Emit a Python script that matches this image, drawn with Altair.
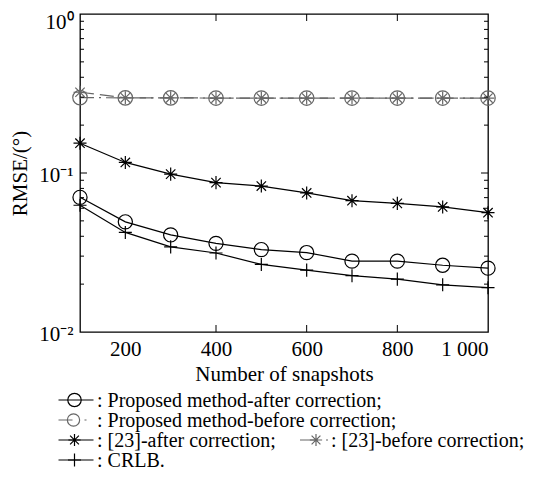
import altair as alt
import pandas as pd

# ---------------- data ----------------
snapshots = [100, 200, 300, 400, 500, 600, 700, 800, 900, 1000]
prop_after = [0.0703, 0.0493, 0.0408, 0.0361, 0.0330, 0.0316, 0.0279, 0.0279, 0.0263, 0.0252]
prop_before = [0.298, 0.297, 0.297, 0.296, 0.296, 0.296, 0.296, 0.296, 0.296, 0.296]
ref23_after = [0.154, 0.1165, 0.0984, 0.0870, 0.0828, 0.0749, 0.0670, 0.0644, 0.0612, 0.0563]
ref23_before = [0.322, 0.297, 0.297, 0.296, 0.296, 0.296, 0.296, 0.296, 0.296, 0.296]
crlb = [0.0627, 0.0423, 0.0343, 0.0314, 0.0266, 0.0245, 0.0226, 0.0215, 0.0198, 0.0190]

x_tick_values = [200, 400, 600, 800, 1000]
x_inner_ticks = [400, 600, 800]
y_major = [0.01, 0.1, 1]
y_minor = [0.02, 0.03, 0.04, 0.05, 0.06, 0.07, 0.08, 0.09,
           0.2, 0.3, 0.4, 0.5, 0.6, 0.7, 0.8, 0.9]

legend_labels = [": Proposed method-after correction;",
                 ": Proposed method-before correction;",
                 ": [23]-after correction;",
                 ": [23]-before correction;",
                 ": CRLB."]

# ---------------- styling ----------------
W, H = 408, 318
FONT = "Liberation Serif"
GRAY = "#666666"
STAR = "M-1,0L1,0M0,-1L0,1M-0.72,-0.72L0.72,0.72M-0.72,0.72L0.72,-0.72"
PLUS = "M-1,0L1,0M0,-1L0,1"
LFS = 20

xs = alt.Scale(domain=[100, 1000], nice=False, zero=False)
ys = alt.Scale(type="log", domain=[0.01, 1], nice=False)

x_axis = alt.Axis(values=x_tick_values, ticks=False, domain=False, grid=False,
                  labelExpr="datum.value == 1000 ? '1 000' : datum.label",
                  labelFontSize=21, labelPadding=6, labelColor="black",
                  titleFontSize=21, titleFontWeight="normal", titlePadding=4,
                  titleColor="black", labelFont=FONT, titleFont=FONT)
y_axis = alt.Axis(values=y_major, ticks=False, domain=False, grid=False,
                  labelExpr="datum.value >= 0.5 ? '10⁰' : datum.value >= 0.05 ? '10⁻¹' : '10⁻²'",
                  labelBaseline={"condition": {"test": "datum.value >= 0.5", "value": "top"},
                                 "value": "middle"},
                  labelOffset={"condition": {"test": "datum.value >= 0.5", "value": -3},
                               "value": 2},
                  labelFontSize=21, labelPadding=7, labelColor="black",
                  titleFontSize=21, titleFontWeight="normal", titlePadding=8,
                  titleColor="black", labelFont=FONT, titleFont=FONT)
X = alt.X("x:Q", scale=xs, title="Number of snapshots", axis=x_axis)
Y = alt.Y("y:Q", scale=ys, title="RMSE/(°)", axis=y_axis)


def df_of(vals):
    return pd.DataFrame({"x": snapshots, "y": vals})


layers = []


def add_series(vals, color, dash, shapes):
    d = df_of(vals)
    if dash:
        line = alt.Chart(d).mark_line(color=color, strokeWidth=1.2, strokeDash=dash)
    else:
        line = alt.Chart(d).mark_line(color=color, strokeWidth=1.2)
    layers.append(line.encode(x=X, y=Y))
    for shp, sz in shapes:
        layers.append(alt.Chart(d).mark_point(shape=shp, size=sz, color=color, filled=False,
                                               strokeWidth=1.2, opacity=1).encode(x=X, y=Y))


add_series(prop_before, GRAY, [14, 5, 2, 5], [("circle", 210)])
add_series(ref23_before, GRAY, [14, 6], [(STAR, 170)])
add_series(ref23_after, "black", None, [(STAR, 170)])
add_series(prop_after, "black", None, [("circle", 200)])
add_series(crlb, "black", None, [(PLUS, 170)])


# inner ticks
def ydf(v):
    return pd.DataFrame({"y": v})


def xdf(v):
    return pd.DataFrame({"x": v})


for vals, L in ((y_minor, 4), ([0.1], 7)):
    layers.append(alt.Chart(ydf(vals)).mark_rule(color="black", strokeWidth=1)
                  .encode(y=Y, x=alt.value(0), x2=alt.value(L)))
    layers.append(alt.Chart(ydf(vals)).mark_rule(color="black", strokeWidth=1)
                  .encode(y=Y, x=alt.value(W - L), x2=alt.value(W)))
layers.append(alt.Chart(xdf(x_inner_ticks)).mark_rule(color="black", strokeWidth=1)
              .encode(x=X, y=alt.value(H), y2=alt.value(H - 7)))
layers.append(alt.Chart(xdf(x_inner_ticks)).mark_rule(color="black", strokeWidth=1)
              .encode(x=X, y=alt.value(0), y2=alt.value(7)))

# ---------------- custom legend below ----------------
one = pd.DataFrame({"a": [0]})


def leg_rule(x1, x2, y, color, dash=None):
    if dash:
        m = alt.Chart(one).mark_rule(color=color, strokeWidth=1.2, strokeDash=dash)
    else:
        m = alt.Chart(one).mark_rule(color=color, strokeWidth=1.2)
    layers.append(m.encode(x=alt.value(x1), x2=alt.value(x2), y=alt.value(y)))


def leg_sym(x, y, shp, sz, color):
    layers.append(alt.Chart(one).mark_point(shape=shp, size=sz, color=color, filled=False,
                                             strokeWidth=1.2, opacity=1)
                  .encode(x=alt.value(x), y=alt.value(y)))


def leg_text(x, y, txt):
    layers.append(alt.Chart(pd.DataFrame({"t": [txt]})).mark_text(
        align="left", baseline="middle", font=FONT, fontSize=LFS, color="black")
        .encode(x=alt.value(x), y=alt.value(y), text="t:N"))


rows_y = [386, 406, 426, 446]
LX1, LX2, LC, TX = -21.5, 13.5, -5.5, 17

# row 1
leg_rule(LX1, LX2, rows_y[0], "black")
leg_sym(LC, rows_y[0], "circle", 180, "black")
leg_text(TX, rows_y[0] + 1, legend_labels[0])
# row 2
leg_rule(LX1, LX2, rows_y[1], GRAY, [14, 12, 2, 20])
leg_sym(LC - 1, rows_y[1], "circle", 150, GRAY)
leg_text(TX, rows_y[1] + 1, legend_labels[1])
# row 3
leg_rule(LX1, LX2, rows_y[2], "black")
leg_sym(LC, rows_y[2], STAR, 150, "black")
leg_text(TX, rows_y[2] + 1, legend_labels[2])
leg_rule(220, 248, rows_y[2], GRAY, [18, 8, 2, 20])
leg_sym(236, rows_y[2], STAR, 150, GRAY)
leg_text(251, rows_y[2] + 1, legend_labels[3])
# row 4
leg_rule(LX1, LX2, rows_y[3], "black")
leg_sym(LC, rows_y[3], PLUS, 170, "black")
leg_text(TX, rows_y[3] + 1, legend_labels[4])

chart = alt.layer(*layers).properties(
    width=W, height=H,
    autosize=alt.AutoSizeParams(type="none"),
    padding={"left": 72, "top": 6, "right": 40, "bottom": 142},
).configure(font=FONT).configure_view(stroke="black", strokeWidth=1.3)

chart.save("out.html", embed_options={"renderer": "svg", "actions": False})
